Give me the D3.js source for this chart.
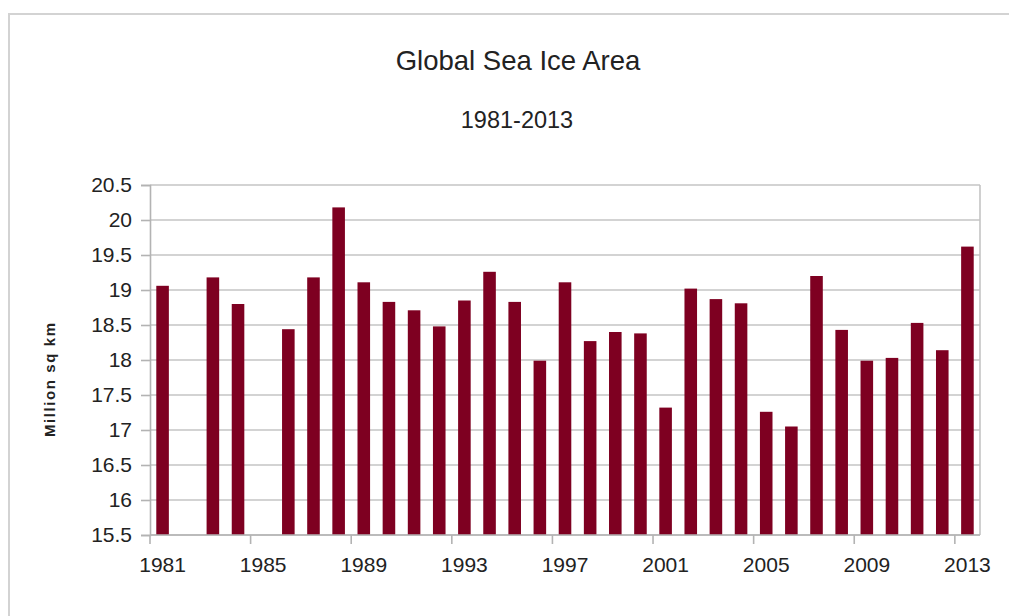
<!DOCTYPE html>
<html>
<head>
<meta charset="utf-8">
<script src="https://cdn.jsdelivr.net/npm/d3@7"></script>
<style>
  body { margin: 0; background: #fff; }
  text { font-family: "Liberation Sans", Arial, sans-serif; fill: #222; }
</style>
</head>
<body>
<script>
// Global sea ice area, yearly (million sq km); 1982 and 1985 have no bar
let years = ["1981","1982","1983","1984","1985","1986","1987","1988","1989","1990",
  "1991","1992","1993","1994","1995","1996","1997","1998","1999","2000",
  "2001","2002","2003","2004","2005","2006","2007","2008","2009","2010",
  "2011","2012","2013"];
let area = [19.06, null, 19.18, 18.80, null, 18.44, 19.18, 20.18, 19.11, 18.83,
  18.71, 18.48, 18.85, 19.26, 18.83, 17.99, 19.11, 18.27, 18.40, 18.38,
  17.32, 19.02, 18.87, 18.81, 17.26, 17.05, 19.20, 18.43, 17.99, 18.03,
  18.53, 18.14, 19.62];
let yTicks = [15.5, 16, 16.5, 17, 17.5, 18, 18.5, 19, 19.5, 20, 20.5];
let xLabels = ["1981","1985","1989","1993","1997","2001","2005","2009","2013"];

let w = 1009, h = 616;
let margin = {top: 185, right: 29, bottom: 81, left: 150};
let width = w - margin.left - margin.right, height = h - margin.top - margin.bottom;
let gridColor = "#c4c4c4", barColor = "#7e0021";

let svg = d3.select("body").append("svg").attr("width", w).attr("height", h);

// outer frame (runs off the right and bottom)
svg.append("path")
  .attr("d", "M9," + h + "V14H" + w)
  .attr("fill", "none").attr("stroke", "#d3d3d3").attr("stroke-width", 2);

svg.append("text").text("Global Sea Ice Area")
  .attr("x", 518).attr("y", 70).attr("text-anchor", "middle").attr("font-size", "27.5px");
svg.append("text").text("1981-2013")
  .attr("x", 517).attr("y", 128).attr("text-anchor", "middle").attr("font-size", "23.5px");

svg.append("text").text("Million sq km")
  .attr("transform", "translate(55,380) rotate(-90)")
  .attr("text-anchor", "middle").attr("font-size", "15px").attr("font-weight", "bold")
  .attr("textLength", 114).attr("lengthAdjust", "spacing");

let g = svg.append("g").attr("transform", "translate(" + margin.left + "," + margin.top + ")");

let xScale = d3.scaleBand().domain(years).range([0, width]).paddingInner(0.5).paddingOuter(0.25);
let yScale = d3.scaleLinear().domain([15.5, 20.5]).range([height, 0]);

// gridlines
g.selectAll(".grid").data(yTicks).enter().append("line")
  .attr("x1", 0).attr("x2", width)
  .attr("y1", d => yScale(d)).attr("y2", d => yScale(d))
  .attr("stroke", gridColor).attr("stroke-width", 1.6);
g.append("line").attr("x1", width).attr("x2", width).attr("y1", 0).attr("y2", height)
  .attr("stroke", gridColor).attr("stroke-width", 1.6);

// y axis
let yAxis = g.append("g").call(d3.axisLeft(yScale).tickValues(yTicks).tickSize(9).tickPadding(9).tickFormat(String));
yAxis.select(".domain").attr("stroke", "#b3b3b3").attr("stroke-width", 1.6);
yAxis.selectAll(".tick line").attr("stroke", "#b3b3b3").attr("stroke-width", 1.6);
yAxis.selectAll("text").attr("font-size", "21px").attr("fill", "#222")
  .attr("font-family", "Liberation Sans, Arial, sans-serif");

// bars
g.selectAll(".bar").data(years.filter((d, i) => area[i] != null)).enter().append("rect")
  .attr("class", "bar")
  .attr("x", d => xScale(d))
  .attr("width", xScale.bandwidth())
  .attr("y", d => yScale(area[years.indexOf(d)]))
  .attr("height", d => height - yScale(area[years.indexOf(d)]))
  .attr("fill", barColor);

// x axis: labels at category centres, tick marks at category boundaries
let half = (xScale.step() - xScale.bandwidth()) / 2;
g.selectAll(".xtick").data(xLabels).enter().append("line")
  .attr("x1", d => xScale(d) - half).attr("x2", d => xScale(d) - half)
  .attr("y1", height).attr("y2", height + 9)
  .attr("stroke", "#b3b3b3").attr("stroke-width", 1.6);
g.append("line").attr("x1", 0).attr("x2", width).attr("y1", height).attr("y2", height)
  .attr("stroke", "#b3b3b3").attr("stroke-width", 1.6);

let xAxis = g.append("g").attr("transform", "translate(0," + height + ")")
  .call(d3.axisBottom(xScale).tickValues(xLabels).tickSize(0).tickPadding(22));
xAxis.select(".domain").remove();
xAxis.selectAll("text").attr("font-size", "21px").attr("fill", "#222")
  .attr("font-family", "Liberation Sans, Arial, sans-serif");
</script>
</body>
</html>
